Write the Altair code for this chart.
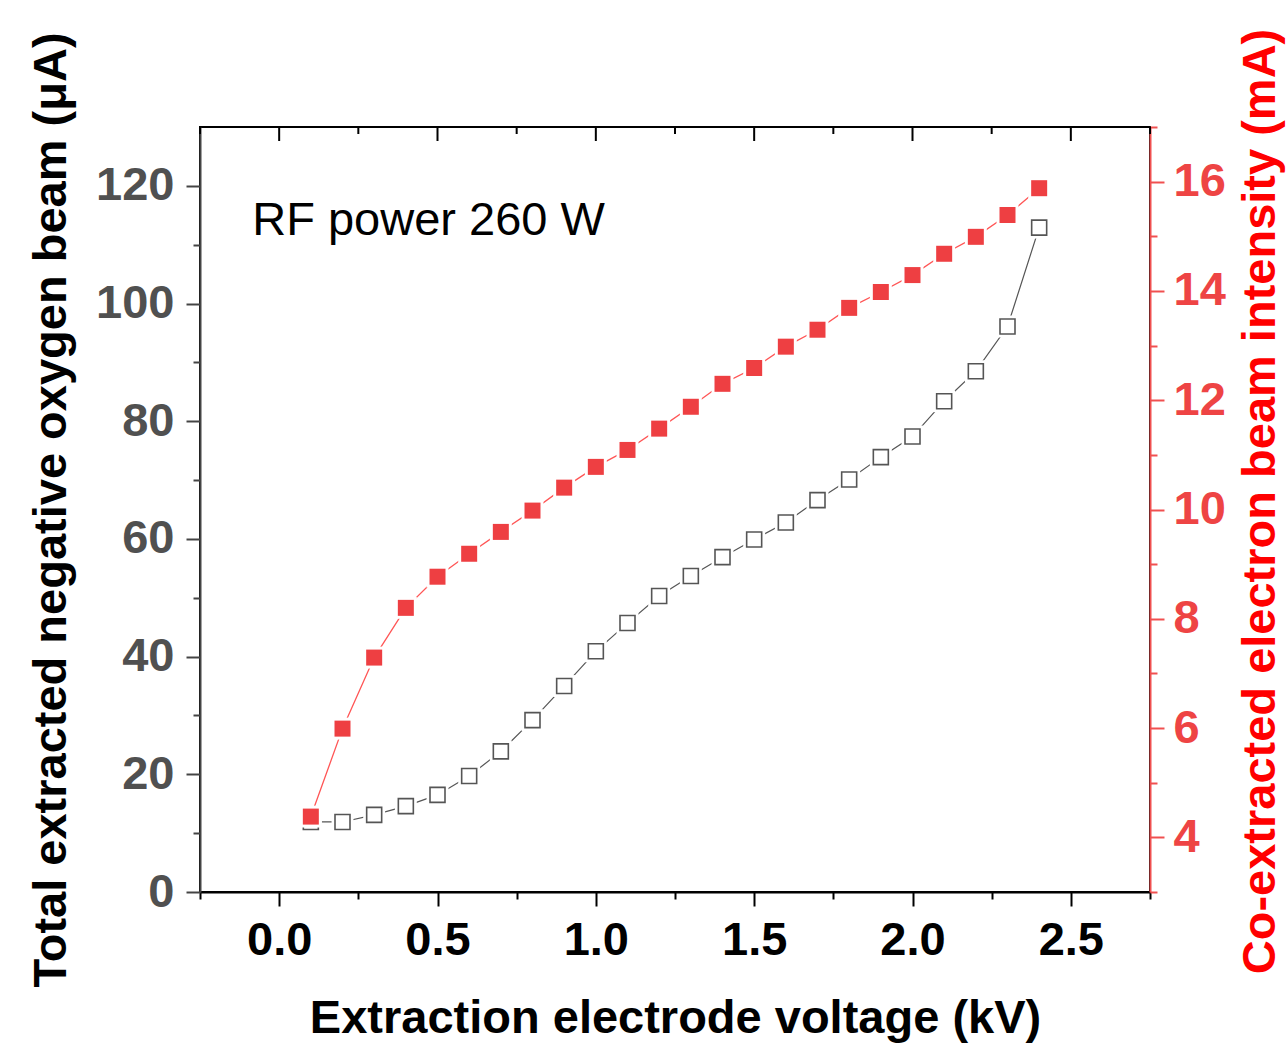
import altair as alt
import pandas as pd

voltage = [0.1, 0.2, 0.3, 0.4, 0.5, 0.6, 0.7, 0.8, 0.9, 1.0, 1.1, 1.2,
           1.3, 1.4, 1.5, 1.6, 1.7, 1.8, 1.9, 2.0, 2.1, 2.2, 2.3, 2.4]
oxygen_uA = [11.9, 11.9, 13.1, 14.6, 16.5, 19.7, 23.9, 29.2, 35.0, 40.9, 45.7, 50.3,
             53.7, 56.9, 59.9, 62.8, 66.6, 70.1, 73.9, 77.4, 83.4, 88.5, 96.1, 112.9]
electron_mA = [4.38, 5.99, 7.29, 8.20, 8.77, 9.19, 9.59, 9.98, 10.40, 10.78, 11.09, 11.48,
               11.88, 12.30, 12.59, 12.98, 13.29, 13.69, 13.98, 14.29, 14.68, 14.99, 15.39, 15.88]

x_ticks = [-0.25, 0.0, 0.25, 0.5, 0.75, 1.0, 1.25, 1.5, 1.75, 2.0, 2.25, 2.5, 2.75]
left_ticks = [0, 10, 20, 30, 40, 50, 60, 70, 80, 90, 100, 110, 120]
right_ticks = [3, 4, 5, 6, 7, 8, 9, 10, 11, 12, 13, 14, 15, 16, 17]

annot_x = [-0.085]
annot_y = [114]
annot_text = ["RF power 260 W"]

df = pd.DataFrame({"V": voltage, "O": oxygen_uA, "E": electron_mA})
top_df = pd.DataFrame({"V": x_ticks})
annot_df = pd.DataFrame({"V": annot_x, "O": annot_y, "text": annot_text})

FONT = "Liberation Sans"
XDOM = [-0.25, 2.75]
LFS = 47
TFS = 47

x_enc = alt.X(
    "V:Q",
    scale=alt.Scale(domain=XDOM, nice=False, zero=False),
    axis=alt.Axis(
        values=x_ticks,
        format=".1f",
        labelExpr="abs(round(datum.value*4)) % 2 == 0 ? datum.label : ''",
        tickSize=alt.condition("abs(round(datum.value*4)) % 2 == 0", alt.value(14), alt.value(7)),
        tickColor="black", tickWidth=2,
        domainColor="black", domainWidth=2,
        labelFont=FONT, labelFontSize=LFS, labelFontWeight="bold", labelColor="black",
        labelPadding=11, labelOverlap=False, labelFlush=False,
        title="Extraction electrode voltage (kV)",
        titleFont=FONT, titleFontSize=TFS, titleFontWeight="bold", titleColor="black",
        titlePadding=32, grid=False,
    ),
)

y_left = alt.Y(
    "O:Q",
    scale=alt.Scale(domain=[0, 130], nice=False),
    axis=alt.Axis(
        orient="left",
        values=left_ticks,
        labelExpr="datum.value % 20 == 0 ? datum.label : ''",
        tickSize=alt.condition("datum.value % 20 == 0", alt.value(14), alt.value(7)),
        tickColor="#444444", tickWidth=2,
        domainColor="#444444", domainWidth=2,
        labelFont=FONT, labelFontSize=LFS, labelFontWeight="bold", labelColor="#505050",
        labelPadding=12, labelOverlap=False, labelFlush=False,
        title="Total extracted negative oxygen beam (μA)",
        titleFont=FONT, titleFontSize=TFS, titleFontWeight="bold", titleColor="black",
        titlePadding=20, grid=False,
    ),
)

y_right = alt.Y(
    "E:Q",
    scale=alt.Scale(domain=[3, 17], nice=False, zero=False),
    axis=alt.Axis(
        orient="right",
        values=right_ticks,
        labelExpr="datum.value % 2 == 0 ? datum.label : ''",
        tickSize=alt.condition("datum.value % 2 == 0", alt.value(14), alt.value(7)),
        tickColor="#F05050", tickWidth=2,
        domainColor="#F05050", domainWidth=2,
        labelFont=FONT, labelFontSize=LFS, labelFontWeight="bold", labelColor="#EE4444",
        labelPadding=9, labelOverlap=False, labelFlush=False,
        title="Co-extracted electron beam intensity (mA)",
        titleFont=FONT, titleFontSize=TFS, titleFontWeight="bold", titleColor="#FF0000",
        titleAngle=270, titleBaseline="top", titleY=374,
        titlePadding=12, grid=False,
    ),
)

left_base = alt.Chart(df).encode(x=x_enc, y=y_left)
black_line = left_base.mark_line(color="#555555", strokeWidth=1.2)
black_bg = left_base.mark_point(shape="square", filled=True, color="white", size=480, opacity=1)
black_pts = left_base.mark_point(shape="square", filled=True, fill="white", stroke="#555555",
                                 strokeWidth=1.6, size=225, opacity=1)

top_major = alt.Chart(top_df).transform_filter(
    "abs(round(datum.V*4)) % 2 == 0"
).mark_rule(color="black", strokeWidth=2).encode(x=x_enc, y=alt.value(0), y2=alt.value(14))
top_minor = alt.Chart(top_df).transform_filter(
    "abs(round(datum.V*4)) % 2 == 1"
).mark_rule(color="black", strokeWidth=2).encode(x=x_enc, y=alt.value(0), y2=alt.value(7))

annot = alt.Chart(annot_df).mark_text(
    align="left", baseline="middle", font=FONT, fontSize=47, color="black"
).encode(x=x_enc, y=y_left, text="text:N")

left = alt.layer(black_line, black_bg, black_pts, annot, top_major, top_minor)

right_base = alt.Chart(df).encode(x=x_enc, y=y_right)
red_line = right_base.mark_line(color="#FF5555", strokeWidth=1.3)
red_bg = right_base.mark_point(shape="square", filled=True, color="white", size=480, opacity=1)
red_pts = right_base.mark_point(shape="square", filled=True, color="#EE3F42", size=256, opacity=1)
right = alt.layer(red_line, red_bg, red_pts)

chart = alt.layer(left, right).resolve_scale(y="independent").properties(
    width=950,
    height=765,
    autosize=alt.AutoSizeParams(type="none"),
    padding={"left": 200, "top": 127, "right": 136, "bottom": 151},
    background="white",
).configure_view(stroke="black", strokeWidth=2)

chart.save("out.html", embed_options={"renderer": "svg", "actions": False})
